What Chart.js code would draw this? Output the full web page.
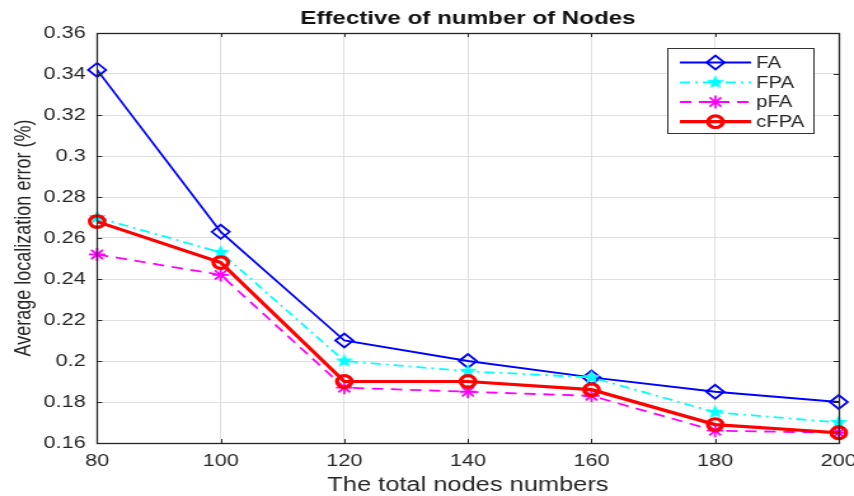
<!DOCTYPE html>
<html>
<head>
<meta charset="utf-8">
<script src="https://cdn.jsdelivr.net/npm/chart.js@4/dist/chart.umd.min.js"></script>
<style>
  html, body { margin: 0; padding: 0; background: #fff; overflow: hidden; }
  /* the reference figure is stretched horizontally, so the canvas is too */
  #wrap { width: 672px; height: 496px; transform: scaleX(1.2708); transform-origin: 0 0; }
</style>
</head>
<body>
<div id="wrap"><canvas id="myChart" width="672" height="496"></canvas></div>
<script>
const nodes = [80, 100, 120, 140, 160, 180, 200];
const faErr = [0.342, 0.263, 0.210, 0.200, 0.192, 0.185, 0.180];
const fpaErr = [0.270, 0.253, 0.200, 0.195, 0.192, 0.175, 0.170];
const pfaErr = [0.252, 0.242, 0.187, 0.185, 0.183, 0.166, 0.165];
const cfpaErr = [0.268, 0.248, 0.190, 0.190, 0.186, 0.169, 0.165];
const seriesNames = ["FA", "FPA", "pFA", "cFPA"];

const textColor = "#262626";
const font = "'Liberation Sans', Arial, sans-serif";

// filled pentagram for the FPA marker
const makePentagram = (color, r) => {
    const c = document.createElement("canvas");
    const s = Math.ceil(r * 2 + 2);
    c.width = s;
    c.height = s;
    const g = c.getContext("2d");
    g.beginPath();
    for (let i = 0; i < 10; i++) {
        const rad = i % 2 ? r * 0.42 : r;
        const a = -Math.PI / 2 + i * Math.PI / 5;
        g.lineTo(s / 2 + rad * Math.cos(a), s / 2 + rad * Math.sin(a));
    }
    g.closePath();
    g.fillStyle = color;
    g.fill();
    return c;
}

const starImg = makePentagram("#00ffff", 7.5);

const boxPlugin = {
    id: "box",
    afterDatasetsDraw(chart) {
        const { ctx, chartArea: a, scales } = chart;
        ctx.save();
        ctx.strokeStyle = textColor;
        ctx.lineWidth = 1;
        ctx.beginPath();
        const t = 4;
        scales.y.ticks.forEach(tk => {
            const y = Math.round(scales.y.getPixelForValue(tk.value)) + 0.5;
            ctx.moveTo(a.left, y); ctx.lineTo(a.left + t, y);
            ctx.moveTo(a.right, y); ctx.lineTo(a.right - t, y);
        });
        scales.x.ticks.forEach((tk, i) => {
            const x = Math.round(scales.x.getPixelForTick(i)) + 0.5;
            ctx.moveTo(x, a.bottom); ctx.lineTo(x, a.bottom - t);
            ctx.moveTo(x, a.top); ctx.lineTo(x, a.top + t);
        });
        ctx.stroke();
        ctx.lineWidth = 1.3;
        ctx.strokeRect(Math.round(a.left) + 0.5, Math.round(a.top) + 0.5, Math.round(a.right - a.left), Math.round(a.bottom - a.top));
        ctx.restore();
    }
};

const legendPlugin = {
    id: "boxLegend",
    afterDraw(chart) {
        const ctx = chart.ctx;
        const bx = 525.5, by = 48.5, bw = 115, bh = 85;
        ctx.save();
        ctx.fillStyle = "#ffffff";
        ctx.fillRect(bx, by, bw, bh);
        ctx.strokeStyle = "#333";
        ctx.lineWidth = 1;
        ctx.strokeRect(bx, by, bw, bh);
        const rows = [62.5, 82.3, 102, 121.7];
        chart.data.datasets.forEach((ds, i) => {
            const y = rows[i];
            ctx.strokeStyle = ds.borderColor;
            ctx.lineWidth = ds.borderWidth;
            ctx.setLineDash(ds.borderDash || []);
            ctx.beginPath();
            ctx.moveTo(535, y);
            ctx.lineTo(591, y);
            ctx.stroke();
            ctx.setLineDash([]);
            ctx.fillStyle = ds.pointBackgroundColor;
            ctx.strokeStyle = ds.pointBorderColor;
            ctx.lineWidth = ds.pointBorderWidth;
            Chart.helpers.drawPoint(ctx, {
                pointStyle: ds.pointStyle,
                rotation: 0,
                radius: ds.pointRadius,
                borderWidth: ds.pointBorderWidth
            }, 563, y);
            ctx.fillStyle = textColor;
            ctx.font = "16px " + font;
            ctx.textBaseline = "middle";
            ctx.textAlign = "left";
            ctx.fillText(ds.label, 595, y + 1);
        });
        ctx.restore();
    }
};

const ctx = document.getElementById("myChart").getContext("2d");
const myChart = new Chart(ctx, {
    type: "line",
    data: {
        labels: nodes,
        datasets: [
            {
                label: seriesNames[0], data: faErr, order: 4,
                borderColor: "#0000ff", borderWidth: 1.8,
                pointStyle: "rectRot", pointRadius: 7,
                pointBackgroundColor: "rgba(0,0,0,0)", pointBorderColor: "#0000ff", pointBorderWidth: 1.8
            },
            {
                label: seriesNames[1], data: fpaErr, order: 3,
                borderColor: "#00ffff", borderWidth: 1.8, borderDash: [8, 4, 2, 4],
                pointStyle: starImg, pointRadius: 7.5,
                pointBackgroundColor: "#00ffff", pointBorderColor: "#00ffff", pointBorderWidth: 1
            },
            {
                label: seriesNames[2], data: pfaErr, order: 2,
                borderColor: "#ff00ff", borderWidth: 1.8, borderDash: [9, 6],
                pointStyle: "star", pointRadius: 6.5,
                pointBackgroundColor: "#ff00ff", pointBorderColor: "#ff00ff", pointBorderWidth: 1.8
            },
            {
                label: seriesNames[3], data: cfpaErr, order: 1,
                borderColor: "#ff0000", borderWidth: 3.2,
                pointStyle: "circle", pointRadius: 5.8,
                pointBackgroundColor: "rgba(0,0,0,0)", pointBorderColor: "#ff0000", pointBorderWidth: 3.2
            }
        ].map(d => Object.assign(d, { fill: false, tension: 0, clip: false, pointHoverRadius: d.pointRadius }))
    },
    options: {
        responsive: false,
        animation: false,
        devicePixelRatio: 1,
        layout: { padding: { left: 0, right: 12, top: 0, bottom: 0 } },
        plugins: {
            legend: { display: false },
            tooltip: { enabled: false },
            title: {
                display: true,
                text: "Effective of number of Nodes",
                fullSize: false,
                color: "#111",
                font: { family: font, size: 19, weight: "bold", lineHeight: 1.2 },
                padding: { top: 7, bottom: 3.2 }
            }
        },
        scales: {
            x: {
                type: "category",
                offset: false,
                grid: { color: "#dfdfdf", drawTicks: false },
                border: { display: false },
                ticks: { color: textColor, font: { family: font, size: 17 }, padding: 8, maxRotation: 0, autoSkip: false },
                title: {
                    display: true, text: "The total nodes numbers", color: textColor,
                    font: { family: font, size: 20, lineHeight: 1.1 }, padding: { top: 0, bottom: 0 }
                },
                afterFit: s => { s.height = 53; s.paddingLeft = 0; s.paddingRight = 0; }
            },
            y: {
                min: 0.16,
                max: 0.36,
                grid: { color: "#dfdfdf", drawTicks: false },
                border: { display: false },
                ticks: {
                    stepSize: 0.02, color: textColor, font: { family: font, size: 17 }, padding: 9,
                    callback: v => String(+v.toFixed(2))
                },
                title: {
                    display: true, text: "Average localization error (%)", color: textColor,
                    font: { family: font, size: 18, lineHeight: 1.2 }, padding: { top: 8, bottom: 0 }
                },
                afterFit: s => { s.width = 76.4; s.paddingTop = 0; s.paddingBottom = 0; }
            }
        }
    },
    plugins: [boxPlugin, legendPlugin]
});
</script>
</body>
</html>
